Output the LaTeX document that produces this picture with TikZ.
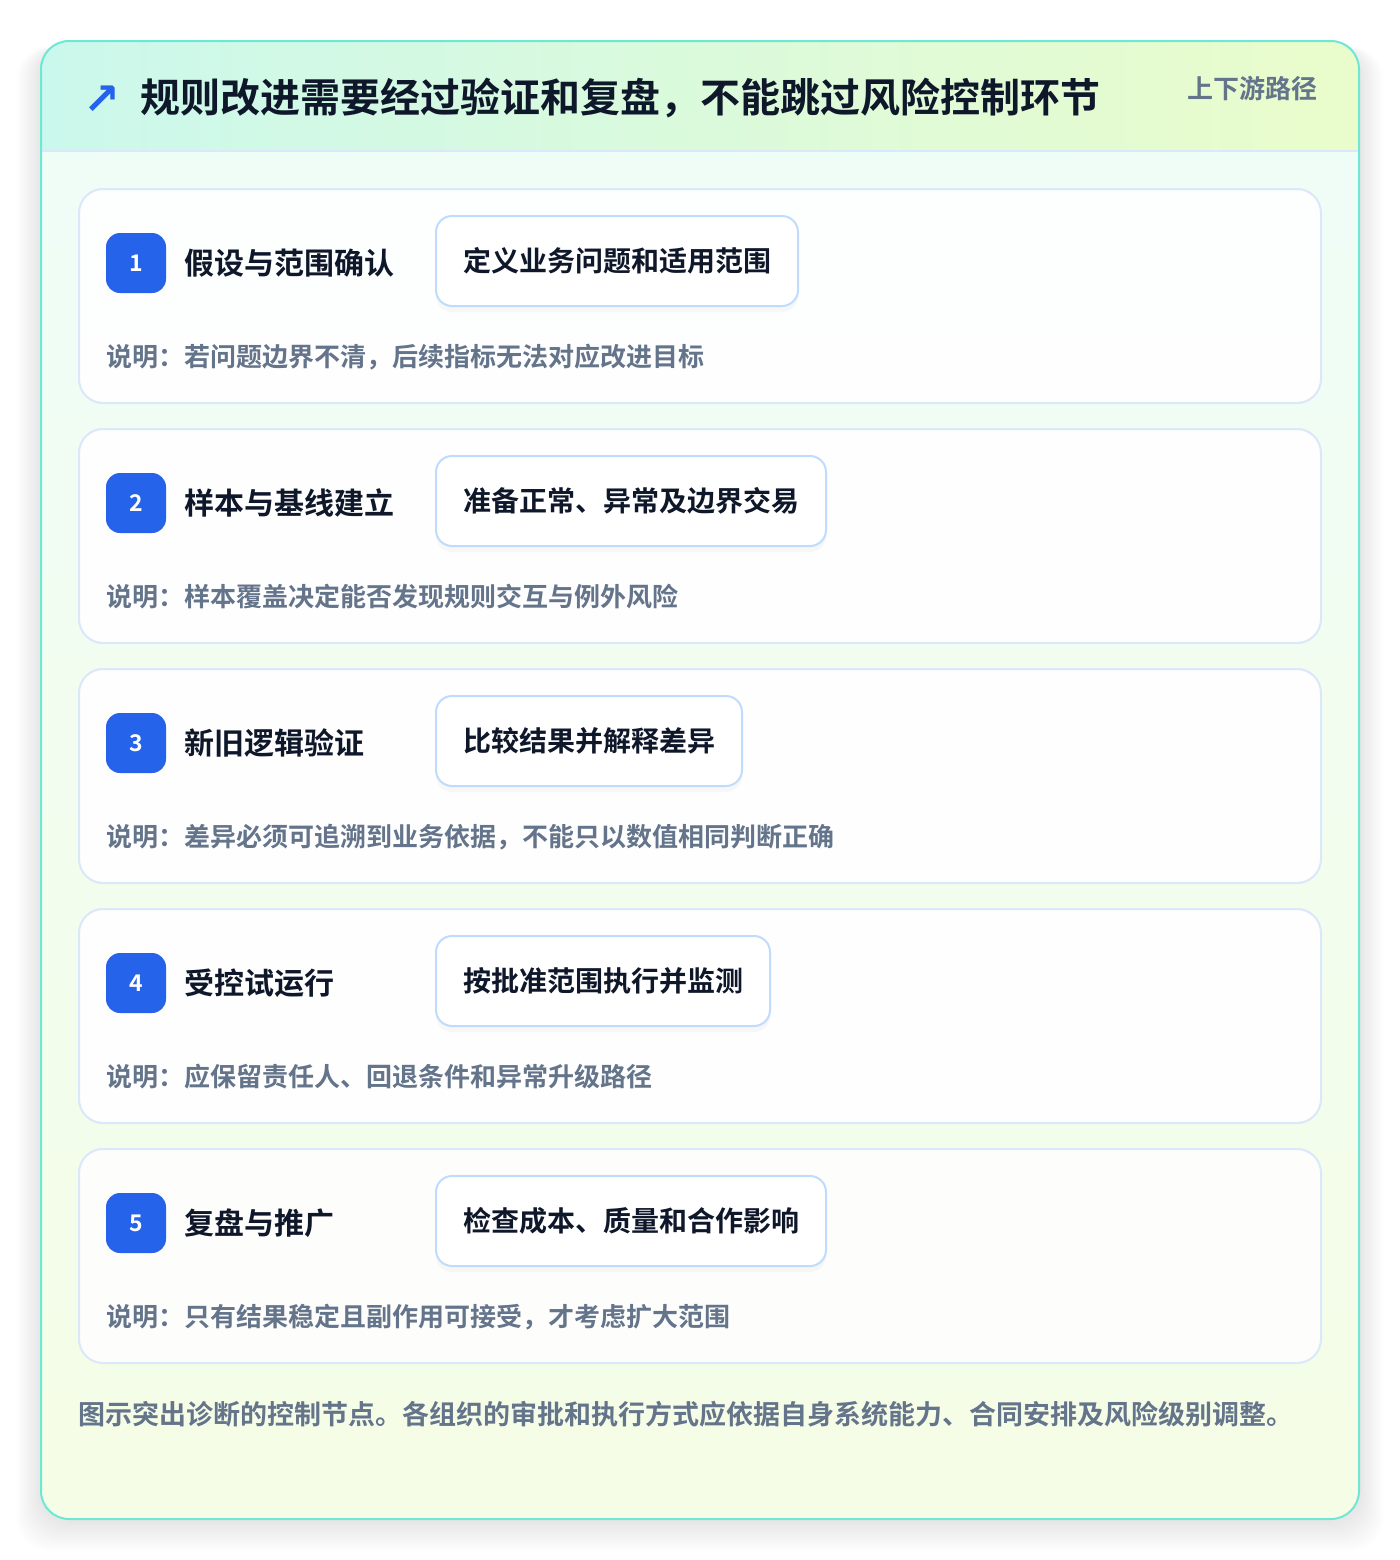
\documentclass[tikz,border=0pt]{standalone}
\usepackage{fontspec}
\setmainfont{Noto Sans CJK SC}[BoldFont={Noto Sans CJK SC Bold}]
\newfontfamily\arrowfont{DejaVu Sans}
\usetikzlibrary{shadows}
\definecolor{rim}{HTML}{6EE7D4}
\definecolor{inkdark}{HTML}{0F172A}
\definecolor{inkgray}{HTML}{64748B}
\definecolor{stepblue}{HTML}{2563EB}
\definecolor{cardline}{HTML}{DBE7FA}
\definecolor{pillline}{HTML}{BFDBFE}
\definecolor{headleft}{HTML}{CBF8EC}
\definecolor{headright}{HTML}{EAFCCB}
\definecolor{bodytop}{HTML}{EFFDF8}
\definecolor{bodybottom}{HTML}{F5FDE6}
\tikzset{
  cardbox/.style={draw=cardline,line width=1pt,fill=white,fill opacity=0.9,rounded corners=12pt},
  badgebox/.style={fill=stepblue,text=white,rounded corners=7pt,minimum size=30pt,inner sep=0pt,
    font=\bfseries\fontsize{11.5pt}{11.5pt}\selectfont},
  steptitle/.style={anchor=west,inner sep=0pt,text=inkdark,font=\bfseries\fontsize{15pt}{15pt}\selectfont},
  pillbox/.style={anchor=west,draw=pillline,line width=1pt,fill=white,rounded corners=8pt,
    minimum height=45pt,inner xsep=13.5pt,inner ysep=0pt,text=inkdark,
    font=\bfseries\fontsize{14pt}{14pt}\selectfont,
    drop shadow={shadow xshift=0pt,shadow yshift=-3pt,opacity=0.05}},
  notetext/.style={anchor=west,inner sep=0pt,text=inkgray,font=\bfseries\fontsize{13pt}{13pt}\selectfont},
  headtitle/.style={anchor=west,inner sep=0pt,text=inkdark,font=\bfseries\fontsize{20pt}{20pt}\selectfont},
}
\begin{document}
\begin{tikzpicture}[x=0.5pt,y=-0.5pt]
  \useasboundingbox (0,0) rectangle (1400,1560);
  % soft shadow round the panel
  \foreach \k in {1,...,12}
    \fill[black,opacity=0.007,rounded corners=16pt] (41-2*\k,47) rectangle (1359+2*\k,1521+2.5*\k);
  % panel and header band
  \shade[top color=bodytop,bottom color=bodybottom,rounded corners=14pt] (41,41) rectangle (1359,1519);
  \begin{scope}
    \clip[rounded corners=14pt] (41,41) rectangle (1359,1519);
    \shade[left color=headleft,right color=headright] (41,41) rectangle (1359,151);
  \end{scope}
  \draw[cardline,line width=1pt] (41,151) -- (1359,151);
  \draw[rim,line width=1pt,rounded corners=14pt] (41,41) rectangle (1359,1519);
  \node[text=stepblue,inner sep=0pt,font=\arrowfont\bfseries\fontsize{22pt}{22pt}\selectfont] (icon) at (102,100) {↗};
  \node[headtitle] (title) at (140,98) {规则改进需要经过验证和复盘，不能跳过风险控制环节};
  \node[notetext,anchor=east] (route) at (1318,89) {上下游路径};
  % steps
  \foreach \i/\sname/\spill/\snote in {
    1/假设与范围确认/定义业务问题和适用范围/{说明：若问题边界不清，后续指标无法对应改进目标},
    2/样本与基线建立/准备正常、异常及边界交易/{说明：样本覆盖决定能否发现规则交互与例外风险},
    3/新旧逻辑验证/比较结果并解释差异/{说明：差异必须可追溯到业务依据，不能只以数值相同判断正确},
    4/受控试运行/按批准范围执行并监测/{说明：应保留责任人、回退条件和异常升级路径},
    5/复盘与推广/检查成本、质量和合作影响/{说明：只有结果稳定且副作用可接受，才考虑扩大范围}}
  {
    \pgfmathsetmacro\cardy{189+240*(\i-1)}
    \draw[cardbox] (79,\cardy) rectangle ++(1242,214);
    \node[badgebox] (badge\i) at (136,\cardy+74) {\i};
    \node[steptitle] (name\i) at (184,\cardy+74) {\sname};
    \node[pillbox] (pill\i) at (435,\cardy+72) {\spill};
    \node[notetext] (note\i) at (106,\cardy+168) {\snote};
  }
  \node[notetext,font=\bfseries\fontsize{13.5pt}{13.5pt}\selectfont] (footer) at (78,1414)
    {图示突出诊断的控制节点。各组织的审批和执行方式应依据自身系统能力、合同安排及风险级别调整。};
\end{tikzpicture}
\end{document}
